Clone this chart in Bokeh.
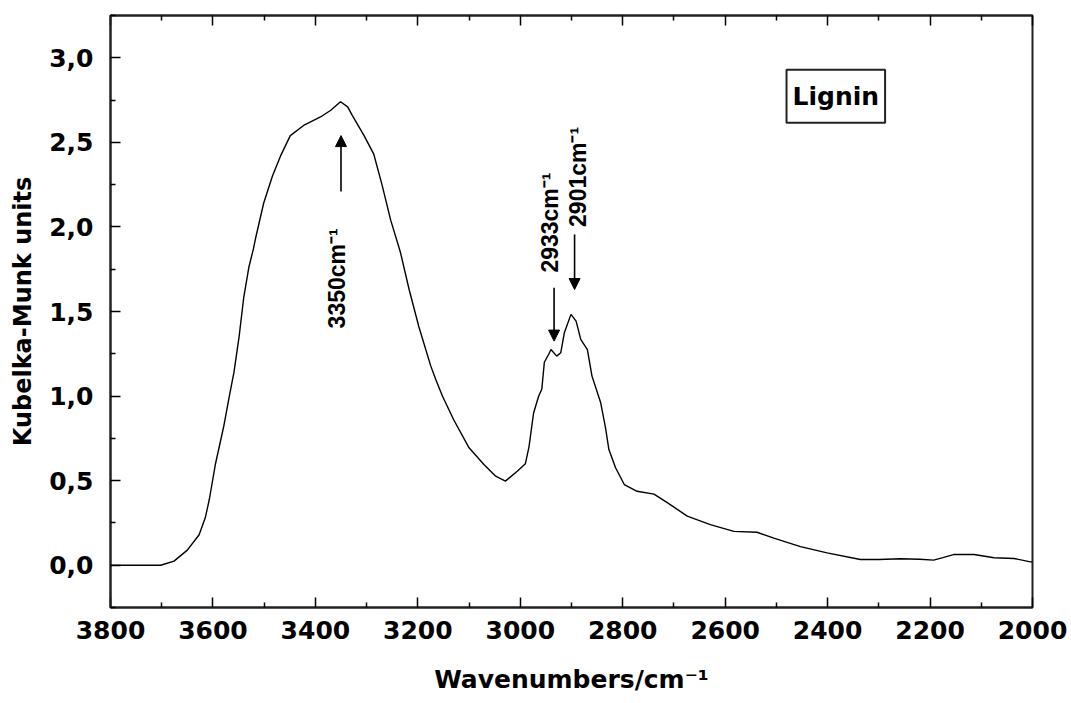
import math
from bokeh.plotting import figure
from bokeh.models import (Range1d, LinearAxis, FixedTicker, CustomJSTickFormatter,
                          Arrow, NormalHead, Label, ColumnDataSource)
from bokeh.core.properties import value
from bokeh.embed import file_html
from bokeh.resources import INLINE

# ---- data ----
wavenumber = [3800, 3750, 3702, 3676, 3650, 3627, 3615, 3607, 3595, 3579, 3568, 3559, 3549,
              3540, 3530, 3521, 3517, 3501, 3484, 3468, 3449, 3423, 3390, 3370, 3351, 3337,
              3328, 3305, 3286, 3270, 3253, 3234, 3217, 3198, 3175, 3165, 3152, 3130, 3100,
              3071, 3048, 3029, 3006, 2990, 2983, 2974, 2964, 2958, 2953, 2944, 2940, 2929,
              2921, 2914, 2901, 2891, 2882, 2869, 2860, 2843, 2834, 2827, 2814, 2797, 2772,
              2739, 2713, 2674, 2629, 2583, 2538, 2505, 2453, 2401, 2336, 2300, 2258, 2220,
              2193, 2175, 2154, 2114, 2075, 2036, 2004, 2000]
km_units = [0.0, 0.0, 0.0, 0.024, 0.089, 0.18, 0.28, 0.39, 0.60, 0.82, 1.0, 1.14, 1.35,
            1.58, 1.76, 1.87, 1.93, 2.14, 2.30, 2.42, 2.54, 2.60, 2.65, 2.69, 2.74, 2.71,
            2.66, 2.54, 2.43, 2.25, 2.04, 1.85, 1.63, 1.41, 1.18, 1.098, 1.0, 0.86, 0.694,
            0.595, 0.526, 0.497, 0.556, 0.60, 0.70, 0.90, 1.0, 1.04, 1.20, 1.25, 1.275, 1.236,
            1.256, 1.374, 1.483, 1.443, 1.335, 1.275, 1.118, 0.96, 0.82, 0.684, 0.576, 0.477,
            0.437, 0.42, 0.37, 0.29, 0.24, 0.20, 0.195, 0.16, 0.11, 0.073, 0.034, 0.034,
            0.038, 0.035, 0.03, 0.045, 0.063, 0.063, 0.044, 0.04, 0.02, 0.02]

x_ticks = [3800, 3600, 3400, 3200, 3000, 2800, 2600, 2400, 2200, 2000]
x_minor = [3700, 3500, 3300, 3100, 2900, 2700, 2500, 2300, 2100]
y_ticks = [0.0, 0.5, 1.0, 1.5, 2.0, 2.5, 3.0]
y_minor = [-0.25, 0.25, 0.75, 1.25, 1.75, 2.25, 2.75, 3.25]

# peak annotations
peak_labels = ["3350cm⁻¹", "2933cm⁻¹", "2901cm⁻¹"]
peak_label_x = [3357, 2941, 2888]
peak_label_y = [1.40, 1.73, 2.00]
arrow_x = [3350, 2934, 2894]
arrow_y_start = [2.21, 1.64, 1.955]
arrow_y_end = [2.54, 1.325, 1.63]

sample_name = "Lignin"

FONT = "DejaVu Sans"

p = figure(width=1071, height=703, output_backend="svg", toolbar_location=None,
           x_range=Range1d(3800, 2000), y_range=Range1d(-0.25, 3.25),
           x_axis_label="Wavenumbers/cm⁻¹", y_axis_label="Kubelka-Munk units",
           min_border_left=110, min_border_right=39, min_border_top=15,
           min_border_bottom=96)
p.grid.visible = False
p.outline_line_color = "#222222"
p.outline_line_width = 2
p.background_fill_color = "white"
p.border_fill_color = "white"

comma_fmt = CustomJSTickFormatter(code="return tick.toFixed(1).replace('.', ',');")
int_fmt = CustomJSTickFormatter(code="return tick.toFixed(0);")

for ax in (p.xaxis[0], p.yaxis[0]):
    ax.axis_line_color = "#222222"
    ax.axis_line_width = 2
    ax.major_tick_in = 10
    ax.major_tick_out = 0
    ax.minor_tick_in = 5
    ax.minor_tick_out = 0
    ax.major_tick_line_width = 1.5
    ax.minor_tick_line_width = 1.5
    ax.major_label_text_font = FONT
    ax.major_label_text_font_style = "bold"
    ax.major_label_text_font_size = "25px"
    ax.major_label_text_color = "black"
    ax.axis_label_text_font = FONT
    ax.axis_label_text_font_style = "bold"
    ax.axis_label_text_color = "black"

p.xaxis[0].ticker = FixedTicker(ticks=x_ticks, minor_ticks=x_minor)
p.xaxis[0].formatter = int_fmt
p.xaxis[0].major_label_standoff = 13
p.xaxis[0].axis_label_standoff = 23
p.xaxis[0].axis_label_text_font_size = "25px"

p.yaxis[0].ticker = FixedTicker(ticks=y_ticks, minor_ticks=y_minor)
p.yaxis[0].formatter = comma_fmt
p.yaxis[0].major_label_standoff = 17
p.yaxis[0].axis_label_standoff = 9
p.yaxis[0].axis_label_text_font_size = "24px"

top = LinearAxis(ticker=FixedTicker(ticks=x_ticks, minor_ticks=x_minor),
                 formatter=CustomJSTickFormatter(code="return '';"))
top.axis_line_color = "#222222"
top.axis_line_width = 2
top.major_tick_in = 10
top.major_tick_out = 0
top.minor_tick_in = 5
top.minor_tick_out = 0
top.major_tick_line_width = 1.5
top.minor_tick_line_width = 1.5
top.major_label_standoff = 0
top.major_label_text_font_size = "1px"
p.add_layout(top, "above")

p.line(wavenumber, km_units, line_color="black", line_width=1.4)

for xa, ys, ye in zip(arrow_x, arrow_y_start, arrow_y_end):
    p.add_layout(Arrow(x_start=xa, y_start=ys, x_end=xa, y_end=ye,
                       line_color="black", line_width=1.6,
                       end=NormalHead(size=11, fill_color="black", line_color="black")))

src = ColumnDataSource(dict(x=peak_label_x, y=peak_label_y, t=peak_labels))
p.text(x="x", y="y", text="t", source=src, angle=math.pi / 2,
       text_align="left", text_baseline="middle",
       text_font=value("Liberation Sans"), text_font_style="bold",
       text_font_size="23px", text_color="black")

p.add_layout(Label(x=2384, y=2.773, text=sample_name, text_align="center",
                   text_baseline="middle", text_font=FONT, text_font_style="bold",
                   text_font_size="25px", text_color="black",
                   border_line_color="#222222", border_line_width=2,
                   background_fill_color="white", padding=(6, 12)))

open("out.html", "w").write(file_html(p, INLINE))
